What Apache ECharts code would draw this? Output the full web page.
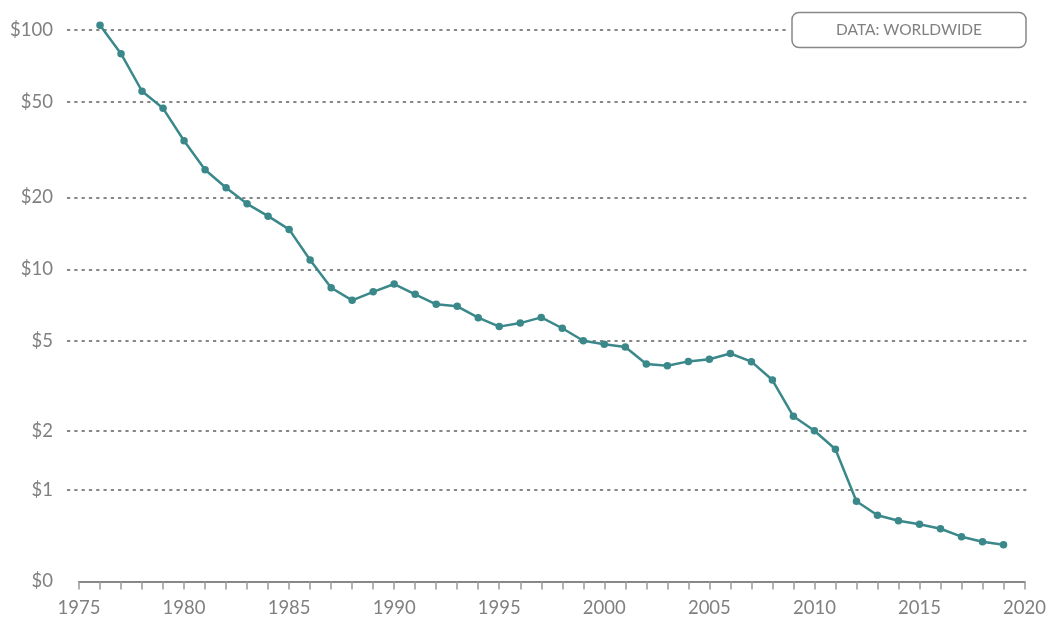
<!DOCTYPE html>
<html>
<head>
<meta charset="utf-8">
<script src="https://cdn.jsdelivr.net/npm/echarts@6/dist/echarts.min.js"></script>
<style>
  html, body { margin: 0; padding: 0; background: #fff; }
  #chart { width: 1049px; height: 624px; }
</style>
</head>
<body>
<div id="chart"></div>
<script>
// price per year, USD
const years = [1976, 1977, 1978, 1979, 1980, 1981, 1982, 1983, 1984, 1985,
  1986, 1987, 1988, 1989, 1990, 1991, 1992, 1993, 1994, 1995,
  1996, 1997, 1998, 1999, 2000, 2001, 2002, 2003, 2004, 2005,
  2006, 2007, 2008, 2009, 2010, 2011, 2012, 2013, 2014, 2015,
  2016, 2017, 2018, 2019];
const prices = [104.6, 79.6, 55.5, 47.1, 34.5, 26.1, 21.95, 18.8, 16.7, 14.7,
  10.95, 8.37, 7.41, 8.05, 8.68, 7.86, 7.13, 6.99, 6.26, 5.74,
  5.94, 6.28, 5.65, 5.0, 4.83, 4.7, 3.98, 3.91, 4.08, 4.17,
  4.41, 4.07, 3.39, 2.34, 2.01, 1.64, 0.848, 0.679, 0.617, 0.577,
  0.528, 0.443, 0.391, 0.36];
const yTicks = [0, 1, 2, 5, 10, 20, 50, 100];
const yearTicks = [1975, 1980, 1985, 1990, 1995, 2000, 2005, 2010, 2015, 2020];

// the y axis is a symlog (asinh) scale
const tf = Math.asinh;
const yMax = 5.5;

const grey = '#808080';
const font = 'Lato';

const chart = echarts.init(document.getElementById('chart'));
chart.setOption({
  animation: false,
  grid: [
    { left: 67, right: 22.7, top: 9, bottom: 42.6 },
    { left: 79, right: 22.7, top: 9, bottom: 42.6 }
  ],
  xAxis: [
    { gridIndex: 0, type: 'value', min: 0, max: 1, show: false },
    {
      gridIndex: 1, type: 'value', min: yearTicks[0], max: yearTicks[yearTicks.length - 1], interval: 5,
      axisLine: { lineStyle: { color: '#888', width: 2 } },
      axisTick: { length: 8, lineStyle: { color: '#999', width: 1.5 } },
      minorTick: { show: true, splitNumber: 5, length: 8, lineStyle: { color: '#999', width: 1.5 } },
      splitLine: { show: false },
      axisLabel: { color: grey, fontSize: 18.5, fontFamily: font, margin: 17, formatter: v => String(v) }
    }
  ],
  yAxis: [
    {
      gridIndex: 0, type: 'value', min: 0, max: yMax,
      axisLine: { show: false },
      axisTick: { show: false, customValues: yTicks.slice(1).map(tf) },
      axisLabel: {
        customValues: yTicks.map(tf),
        color: grey, fontSize: 18.5, fontFamily: font, margin: 14,
        formatter: v => '$' + Math.round(Math.sinh(v))
      },
      splitLine: { show: true, lineStyle: { color: '#5f5f5f', width: 1.5, type: [3.2, 4.1] } }
    },
    { gridIndex: 1, type: 'value', min: 0, max: yMax, show: false }
  ],
  series: [{
    type: 'line',
    xAxisIndex: 1,
    yAxisIndex: 1,
    data: years.map((y, i) => [y, tf(prices[i])]),
    symbol: 'circle',
    symbolSize: 7.5,
    lineStyle: { color: '#3a888a', width: 2.5 },
    itemStyle: { color: '#3a888a' }
  }],
  graphic: [
    { type: 'rect', z: 100, shape: { x: 786, y: 8, width: 245, height: 44 }, style: { fill: '#fff' } },
    { type: 'rect', z: 101, shape: { x: 792, y: 12.5, width: 234, height: 35, r: 7 },
      style: { fill: '#fff', stroke: '#888', lineWidth: 1.5 } },
    { type: 'text', z: 102, x: 909, y: 30,
      style: { text: 'DATA: WORLDWIDE', align: 'center', verticalAlign: 'middle',
        font: '15.5px Lato', fill: grey } }
  ]
});
</script>
</body>
</html>
